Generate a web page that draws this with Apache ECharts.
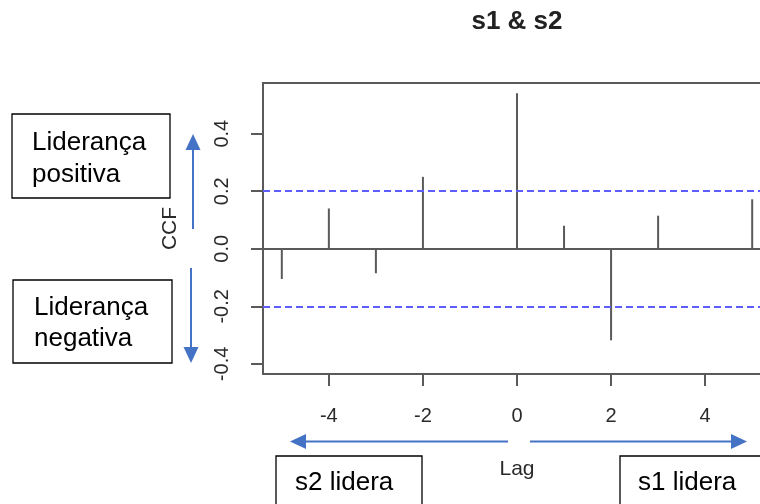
<!DOCTYPE html>
<html>
<head>
<meta charset="utf-8">
<script src="https://cdn.jsdelivr.net/npm/echarts@6/dist/echarts.min.js"></script>
<style>
  html, body { margin: 0; padding: 0; background: #fff; }
  #chart { width: 760px; height: 504px; }
</style>
</head>
<body>
<div id="chart"></div>
<script>
// Cross-correlation of s1 and s2 by lag
const lags = [-5, -4, -3, -2, -1, 0, 1, 2, 3, 4, 5];
const ccfValues = [-0.105, 0.14, -0.085, 0.25, 0.0, 0.54, 0.08, -0.318, 0.115, 0.0, 0.172];
const confidenceBound = 0.2;
const xTicks = [-4, -2, 0, 2, 4];
const yTicks = [-0.4, -0.2, 0.0, 0.2, 0.4];
const titleText = 's1 & s2';

const axisColor = '#5a5a5a';
const textColor = '#2a2a2a';
const arrowBlue = '#4472C4';
const font = '"Liberation Sans", Arial, sans-serif';

const chart = echarts.init(document.getElementById('chart'), null, { renderer: 'canvas' });

const stems = lags.map((lag, i) => [lag, ccfValues[i]]);

// Arrow helper: shaft plus triangular head, drawn as annotations
function arrow(x1, y1, x2, y2) {
  const dx = x2 - x1, dy = y2 - y1;
  const len = Math.sqrt(dx * dx + dy * dy);
  const ux = dx / len, uy = dy / len;
  const headLen = 16, headHalf = 7.5;
  const bx = x2 - ux * headLen, by = y2 - uy * headLen;
  return [
    { type: 'line', shape: { x1: x1, y1: y1, x2: bx, y2: by }, style: { stroke: arrowBlue, lineWidth: 2 }, silent: true },
    { type: 'polygon', shape: { points: [[x2, y2], [bx - uy * headHalf, by + ux * headHalf], [bx + uy * headHalf, by - ux * headHalf]] }, style: { fill: arrowBlue }, silent: true }
  ];
}

function box(x, y, w, h) {
  return { type: 'rect', shape: { x: x, y: y, width: w, height: h }, style: { fill: '#fff', stroke: '#000', lineWidth: 1.3 }, silent: true };
}

function label(text, x, y, lh) {
  return { type: 'text', style: { text: text, x: x, y: y, font: '26px ' + font, fill: '#000', lineHeight: lh, verticalAlign: 'top' }, silent: true };
}

const annotations = [
  box(12, 114, 158, 84),
  label('Liderança\npositiva', 32, 127, 32),
  box(13, 280, 159, 83),
  label('Liderança\nnegativa', 34, 292, 31),
  box(276, 456, 146, 60),
  label('s2 lidera', 295, 469, 28),
  box(620, 456, 150, 60),
  label('s1 lidera', 638, 469, 28)
].concat(
  arrow(193, 229, 193, 134),
  arrow(191, 268, 191, 363),
  arrow(508, 441.5, 290, 441.5),
  arrow(530, 441.5, 747, 441.5)
);

const option = {
  animation: false,
  backgroundColor: '#fff',
  title: {
    text: titleText,
    left: 517,
    top: 9,
    padding: 0,
    textAlign: 'center',
    textStyle: { fontFamily: font, fontSize: 26, fontWeight: 'bold', color: '#222' }
  },
  grid: {
    left: 263,
    top: 83,
    width: 508,
    height: 291,
    show: true,
    borderColor: axisColor,
    borderWidth: 2,
    backgroundColor: 'transparent',
    outerBoundsMode: 'none',
    containLabel: false
  },
  xAxis: {
    type: 'value',
    min: -5.4,
    max: 5.4,
    name: 'Lag',
    nameLocation: 'middle',
    nameGap: 85,
    nameTextStyle: { fontFamily: font, fontSize: 21, color: textColor },
    splitLine: { show: false },
    axisLine: { show: false, onZero: false },
    axisTick: { show: true, length: 12, customValues: xTicks, lineStyle: { color: axisColor, width: 2 } },
    axisLabel: { customValues: xTicks, margin: 32, fontFamily: font, fontSize: 20, color: textColor }
  },
  yAxis: {
    type: 'value',
    min: -0.435,
    max: 0.576,
    name: 'CCF',
    nameLocation: 'middle',
    nameGap: 82,
    nameRotate: 90,
    nameTextStyle: { fontFamily: font, fontSize: 21, color: textColor },
    splitLine: { show: false },
    axisLine: { show: false, onZero: false },
    axisTick: { show: true, length: 12, customValues: yTicks, lineStyle: { color: axisColor, width: 2 } },
    axisLabel: {
      customValues: yTicks,
      rotate: 90,
      margin: 31,
      fontFamily: font,
      fontSize: 20,
      color: textColor,
      formatter: v => v.toFixed(1)
    }
  },
  series: [
    {
      type: 'line',
      data: [],
      silent: true,
      markLine: {
        silent: true,
        symbol: ['none', 'none'],
        label: { show: false },
        data: [
          { yAxis: 0, lineStyle: { color: axisColor, width: 2, type: 'solid' } },
          { yAxis: confidenceBound, lineStyle: { color: '#5c5cff', width: 2, type: [7, 4] } },
          { yAxis: -confidenceBound, lineStyle: { color: '#5c5cff', width: 2, type: [7, 4] } }
        ]
      }
    },
    {
      type: 'custom',
      data: stems,
      silent: true,
      renderItem: function (params, api) {
        const p0 = api.coord([api.value(0), 0]);
        const p1 = api.coord([api.value(0), api.value(1)]);
        return {
          type: 'line',
          shape: { x1: p0[0], y1: p0[1], x2: p1[0], y2: p1[1] },
          style: { stroke: axisColor, lineWidth: 2 }
        };
      }
    }
  ],
  graphic: annotations
};

chart.setOption(option);
</script>
</body>
</html>
